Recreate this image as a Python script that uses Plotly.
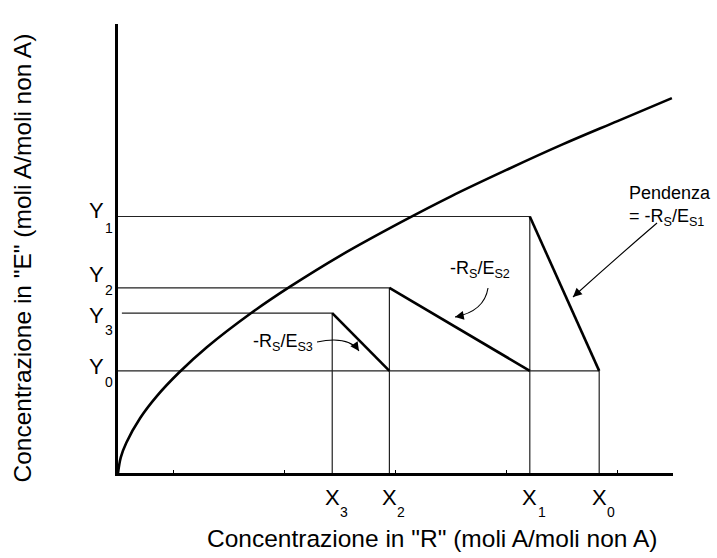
import math
import plotly.graph_objects as go

# ---- data ----
x_letters = ["X", "X", "X", "X"]
x_subs = ["0", "1", "2", "3"]
x_vals = [8.67, 7.42, 4.89, 3.86]
y_letters = ["Y", "Y", "Y", "Y"]
y_subs = ["0", "1", "2", "3"]
y_vals = [1.82, 4.57, 3.30, 2.85]

# equilibrium curve
eq_x = [0, 0.05, 0.15, 0.4, 0.7, 1.1, 1.6, 2.4, 3.1, 4.0, 5.1, 6.0, 7.0, 8.0, 9.0, 9.98]
eq_y = [0, 0.28, 0.54, 0.98, 1.37, 1.79, 2.24, 2.85, 3.32, 3.87, 4.47, 4.93, 5.40, 5.85, 6.27, 6.68]

# per-label vertical placement of the Y labels (letter shift, subscript shift), px
y_label_shifts = [(4, -11), (6, -11), (13, -2), (-2, -17)]

X0, X1, X2, X3 = x_vals
Y0, Y1, Y2, Y3 = y_vals

FONT = "Liberation Sans, Arial, sans-serif"
fig = go.Figure()

thin = dict(color="#222", width=1.2)
# construction lines: horizontal to the y axis, vertical to the x axis
for (xc, yc, xstart) in [(X1, Y1, 0), (X2, Y2, 0), (X3, Y3, 0.07), (X0, Y0, 0)]:
    fig.add_trace(go.Scatter(x=[xstart, xc, xc], y=[yc, yc, 0], mode="lines",
                             line=thin, hoverinfo="skip", showlegend=False))

# operating lines
thick = dict(color="black", width=2.6)
for (xa, ya, xb, yb) in [(X1, Y1, X0, Y0), (X2, Y2, X1, Y0), (X3, Y3, X2, Y0)]:
    fig.add_trace(go.Scatter(x=[xa, xb], y=[ya, yb], mode="lines", line=thick,
                             hoverinfo="skip", showlegend=False))

# equilibrium curve
fig.add_trace(go.Scatter(x=eq_x, y=eq_y, mode="lines", line=dict(color="black", width=2.6, shape="spline"),
                         hoverinfo="skip", showlegend=False))

# curved arrows (start, control, end)
PX_X, PX_Y = 55.5, 56.125
arrows = [
    ((3.586, 2.334), (4.15, 2.45), (4.342, 2.174)),
    ((6.667, 3.296), (6.60, 2.88), (6.072, 2.78)),
    ((9.712, 4.454), (9.0, 3.85), (8.198, 3.136)),
]
for (s, c, e) in arrows:
    fig.add_shape(type="path", xref="x", yref="y",
                  path=f"M {s[0]},{s[1]} Q {c[0]},{c[1]} {e[0]},{e[1]}",
                  line=dict(color="black", width=1.1))
    dx = (c[0] - e[0]) * PX_X
    dy = -(c[1] - e[1]) * PX_Y
    n = math.hypot(dx, dy)
    fig.add_annotation(x=e[0], y=e[1], ax=9 * dx / n, ay=9 * dy / n,
                       xref="x", yref="y", text="", showarrow=True,
                       arrowhead=2, arrowsize=1.6, arrowwidth=1.1, arrowcolor="black")

lab_font = dict(family=FONT, size=18, color="black")
fig.add_annotation(x=3.55, y=2.33, xref="x", yref="y", text="-R<sub>S</sub>/E<sub>S3</sub>",
                   showarrow=False, xanchor="right", yanchor="middle", font=lab_font)
fig.add_annotation(x=5.95, y=3.62, xref="x", yref="y", text="-R<sub>S</sub>/E<sub>S2</sub>",
                   showarrow=False, xanchor="left", yanchor="middle", font=lab_font)
fig.add_annotation(x=9.18, y=4.75, xref="x", yref="y", text="Pendenza<br>= -R<sub>S</sub>/E<sub>S1</sub>",
                   showarrow=False, xanchor="left", yanchor="middle", align="left", font=lab_font)

# stage labels with low-set subscripts
big = dict(family=FONT, size=22, color="black")
small = dict(family=FONT, size=14, color="black")
for letter, sub, xv in zip(x_letters, x_subs, x_vals):
    fig.add_annotation(x=xv, y=0, xref="x", yref="paper", text=letter, showarrow=False,
                       xanchor="center", yanchor="middle", xshift=0, yshift=-24, font=big)
    fig.add_annotation(x=xv, y=0, xref="x", yref="paper", text=sub, showarrow=False,
                       xanchor="left", yanchor="middle", xshift=6, yshift=-39, font=small)
for letter, sub, yv, (ls, ss) in zip(y_letters, y_subs, y_vals, y_label_shifts):
    fig.add_annotation(x=0, y=yv, xref="paper", yref="y", text=letter, showarrow=False,
                       xanchor="right", yanchor="middle", xshift=-12, yshift=ls, font=big)
    fig.add_annotation(x=0, y=yv, xref="paper", yref="y", text=sub, showarrow=False,
                       xanchor="left", yanchor="middle", xshift=-15, yshift=ss, font=small)

# axis titles
title_font = dict(family=FONT, size=24.5, color="black")
fig.add_annotation(x=(432 - 118) / 555, y=-(538 - 473) / 449, xref="paper", yref="paper",
                   text='Concentrazione in "R" (moli A/moli non A)', showarrow=False,
                   xanchor="center", yanchor="middle", font=title_font)
# vertical title drawn in two pieces placed end to end in one column
ytitle_x = (22 - 118) / 555
fig.add_annotation(x=ytitle_x, y=(473 - 484) / 449, xref="paper", yref="paper",
                   text='Concentrazione in "E" (moli A/moli', showarrow=False, textangle=-90,
                   xanchor="center", yanchor="bottom", borderpad=0, font=title_font)
fig.add_annotation(x=ytitle_x, y=(473 - 33) / 449, xref="paper", yref="paper",
                   text='non A)', showarrow=False, textangle=-90,
                   xanchor="center", yanchor="top", borderpad=0, font=title_font)

fig.update_layout(
    width=717, height=558,
    margin=dict(l=118, r=44, t=24, b=85),
    plot_bgcolor="white", paper_bgcolor="white",
    font=dict(family=FONT, color="black"),
    xaxis=dict(range=[0, 10], showgrid=False, zeroline=False, showline=True, linecolor="black",
               linewidth=2.5, showticklabels=False, ticks="",
               minor=dict(tickmode="linear", tick0=0, dtick=1, ticks="inside", ticklen=3,
                          tickcolor="black", tickwidth=1)),
    yaxis=dict(range=[0, 8], showgrid=False, zeroline=False, showline=True, linecolor="black",
               linewidth=2.5, showticklabels=False, ticks=""),
)

fig.write_html("out.html")
